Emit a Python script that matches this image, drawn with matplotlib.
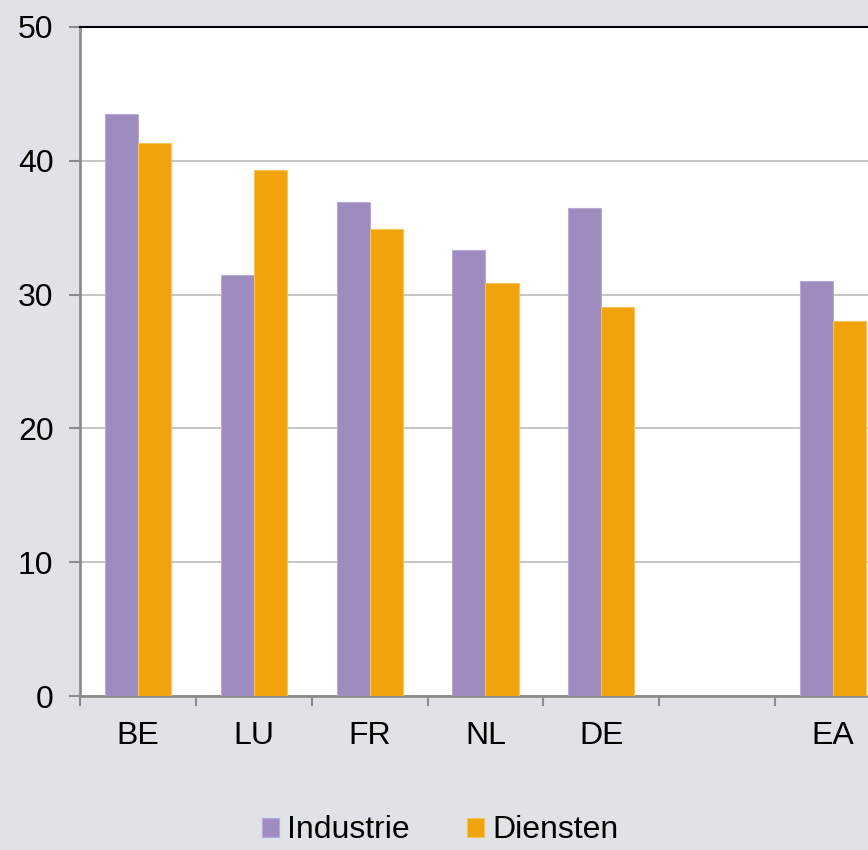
import matplotlib.pyplot as plt
import numpy as np

# landen en waarden per sector
landen = ['BE', 'LU', 'FR', 'NL', 'DE', '', 'EA']
industrie = [43.5, 31.5, 36.9, 33.3, 36.5, np.nan, 31.0]
diensten = [41.3, 39.3, 34.9, 30.9, 29.1, np.nan, 28.0]

paars = '#9e8bbf'
oranje = '#f0a30a'
achtergrond = '#dfe2e7'

plt.rcParams['font.family'] = ['Liberation Sans', 'DejaVu Sans']

fig = plt.figure(figsize=(8.68, 8.5), dpi=100, facecolor=achtergrond)
ax = fig.add_axes([80 / 868, 154 / 850, 811 / 868, 669 / 850])   # loopt rechts iets buiten de figuur
ax.set_facecolor('white')

x = np.arange(len(landen))
b = 0.285
ax.bar(x - b / 2, industrie, b, color=paars, edgecolor='#b9aad4', linewidth=0.8, label='Industrie', zorder=3)
ax.bar(x + b / 2, diensten, b, color=oranje, edgecolor='#f6c35a', linewidth=0.8, label='Diensten', zorder=3)

ax.set_xlim(-0.5, len(landen) - 0.5)
ax.set_ylim(0, 50)
ax.set_yticks([0, 10, 20, 30, 40, 50])
ax.yaxis.grid(True, color='#c0c0c0', linewidth=1.3, zorder=0)
ax.set_axisbelow(True)

# categorie-labels in het midden, streepjes op de grenzen
ax.set_xticks(x)
ax.set_xticklabels(landen)
ax.tick_params(axis='x', length=0, pad=18, labelsize=23)
ax.set_xticks(np.arange(len(landen) + 1) - 0.5, minor=True)
ax.tick_params(axis='x', which='minor', length=7, width=1.5, color='#8c8c8c', direction='out')
ax.tick_params(axis='y', length=8, width=1.5, color='#8c8c8c', pad=11, labelsize=23)

for s in ['left', 'bottom']:
    ax.spines[s].set_color('#8c8c8c')
    ax.spines[s].set_linewidth(2)
ax.spines['top'].set_color('black')
ax.spines['top'].set_linewidth(1.5)
ax.spines['right'].set_visible(False)

fig.legend(loc='center', bbox_to_anchor=(0.507, 0.023), ncol=2, frameon=False,
           fontsize=23, handlelength=0.53, handleheight=0.53, handletextpad=0.25,
           columnspacing=1.8)

plt.savefig('out.png', dpi=100, facecolor=achtergrond)
